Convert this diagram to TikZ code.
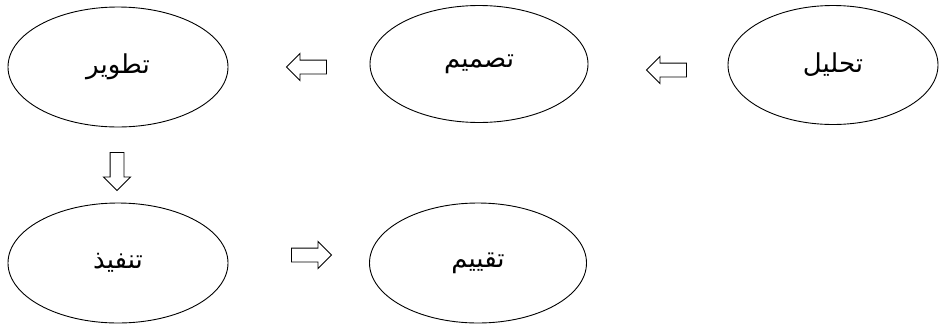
\documentclass[tikz,border=0pt]{standalone}
\usepackage{fontspec}
\usetikzlibrary{shapes.geometric,shapes.arrows}
\TeXXeTstate=1
\newfontfamily\arabicfont[Script=Arabic]{DejaVu Sans}
\tikzset{
  phase/.style={draw, ellipse, line width=0.9pt, inner sep=0pt, font=\arabicfont\fontsize{26}{30}\selectfont},
  blockarrow/.style={draw, single arrow, line width=0.9pt, inner sep=6.5pt, minimum height=40pt,
    single arrow head extend=6.5pt, fill=white}
}
\begin{document}
\begin{tikzpicture}[x=1pt,y=-1pt]
\useasboundingbox (0,0) rectangle (941,327);
\node[phase, minimum width=220pt, minimum height=120pt] (tatwir) at (118,67) {\beginR تطوير\endR};
\node[phase, minimum width=218pt, minimum height=117pt] (tasmim) at (479,64) {\beginR تصميم\endR};
\node[phase, minimum width=210pt, minimum height=119pt] (tahlil) at (833,65) {\beginR تحليل\endR};
\node[phase, minimum width=220pt, minimum height=120pt] (tanfidh) at (118,263) {\beginR تنفيذ\endR};
\node[phase, minimum width=217pt, minimum height=120pt] (taqyim) at (478,263) {\beginR تقييم\endR};
\node[blockarrow, shape border rotate=180] (a1) at (310,67) {};
\node[blockarrow, shape border rotate=180] (a2) at (670,70) {};
\node[blockarrow, shape border rotate=270, minimum height=38pt] (a3) at (117,168) {};
\node[blockarrow] (a4) at (308,255) {};
\end{tikzpicture}
\end{document}
